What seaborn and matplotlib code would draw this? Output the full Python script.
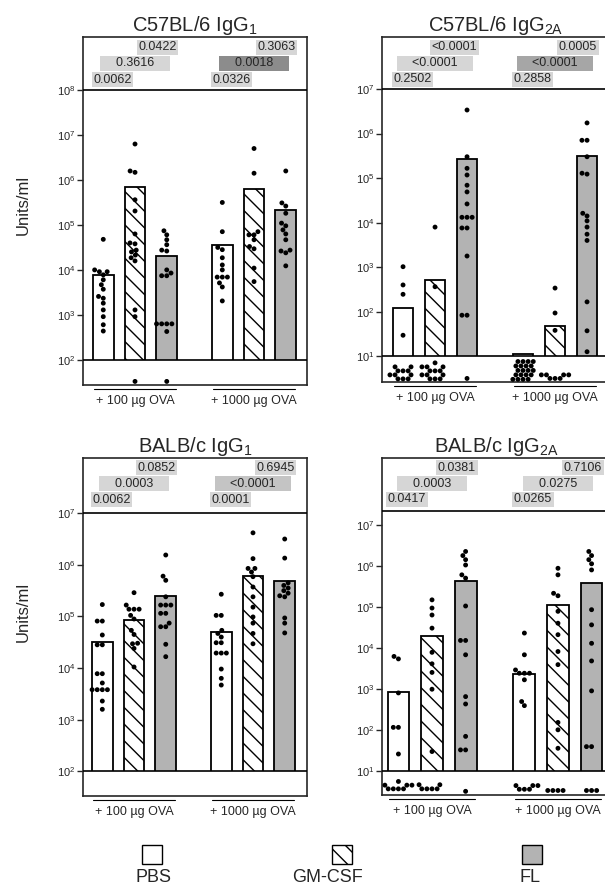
import numpy as np
import pandas as pd
import matplotlib
matplotlib.use('Agg')
import matplotlib.pyplot as plt
from matplotlib.patches import Rectangle
from matplotlib.lines import Line2D
from matplotlib.ticker import NullLocator
import seaborn as sns

# ---- DATOS (valores en log10 Units/ml) ----
doses = ['+ 100 µg OVA', '+ 1000 µg OVA']
treatments = ['PBS', 'GM-CSF', 'FL']
titles = ['C57BL/6 IgG$_1$', 'C57BL/6 IgG$_{2A}$', 'BALB/c IgG$_1$', 'BALB/c IgG$_{2A}$']

# barras: 100 (PBS, GM-CSF, FL), 1000 (PBS, GM-CSF, FL)
c57_g1_bars = [3.88, 5.84, 4.30, 4.56, 5.80, 5.34]
c57_g2a_bars = [2.09, 2.72, 5.43, 1.04, 1.68, 5.49]
balb_g1_bars = [4.50, 4.93, 5.39, 4.70, 5.78, 5.68]
balb_g2a_bars = [2.93, 4.28, 5.63, 3.36, 5.05, 5.58]

# ratones individuales (los valores < limite van en la banda inferior)
c57_g1_pts = [
    [4.68, 4.0, 3.96, 3.96, 3.89, 3.78, 3.67, 3.57, 3.41, 3.37, 3.26, 3.11, 2.96, 2.78, 2.64],
    [6.8, 6.2, 6.17, 5.56, 5.31, 4.8, 4.6, 4.58, 4.44, 4.4, 4.33, 4.27, 4.2, 3.11, 2.96, 1.52],
    [4.87, 4.78, 4.67, 4.56, 4.44, 4.42, 4.0, 3.93, 3.87, 3.87, 2.8, 2.8, 2.8, 2.8, 2.63, 1.52],
    [5.5, 4.85, 4.5, 4.45, 4.27, 4.11, 4.0, 3.84, 3.84, 3.84, 3.71, 3.62, 3.31],
    [6.7, 6.15, 4.85, 4.78, 4.78, 4.67, 4.52, 4.47, 4.04, 3.74],
    [6.2, 5.49, 5.42, 5.26, 5.04, 4.98, 4.89, 4.8, 4.67, 4.44, 4.42, 4.38, 4.09],
]
c57_g2a_pts = [
    [3.01, 2.6, 2.39, 1.47, 0.76, 0.76, 0.67, 0.67, 0.67, 0.58, 0.58, 0.58, 0.49, 0.49, 0.49],
    [3.9, 2.56, 0.85, 0.76, 0.76, 0.76, 0.67, 0.67, 0.67, 0.58, 0.58, 0.58, 0.49, 0.49, 0.49],
    [6.53, 5.48, 5.22, 5.07, 4.84, 4.69, 4.42, 4.12, 4.12, 4.12, 3.88, 3.88, 3.25, 1.92, 1.92, 0.5],
    [0.88, 0.88, 0.88, 0.88, 0.78, 0.78, 0.78, 0.78, 0.68, 0.68, 0.68, 0.68,
     0.58, 0.58, 0.58, 0.58, 0.48, 0.48, 0.48, 0.48],
    [2.53, 1.97, 1.58, 0.58, 0.58, 0.58, 0.58, 0.5, 0.5, 0.5],
    [6.24, 5.85, 5.85, 5.48, 5.11, 5.09, 4.21, 4.15, 4.04, 3.9, 3.74, 3.6, 2.22, 1.57, 1.1],
]
balb_g1_pts = [
    [5.23, 4.91, 4.91, 4.64, 4.45, 4.45, 3.89, 3.89, 3.71, 3.58, 3.58, 3.58, 3.58, 3.36, 3.2],
    [5.46, 5.22, 5.14, 5.14, 5.14, 5.02, 4.95, 4.73, 4.65, 4.48, 4.47, 4.38, 4.02],
    [6.19, 5.78, 5.7, 5.38, 5.22, 5.22, 5.22, 5.06, 5.06, 4.87, 4.8, 4.8, 4.46, 4.22],
    [5.43, 5.02, 5.02, 4.73, 4.67, 4.6, 4.49, 4.49, 4.29, 4.29, 4.29, 3.98, 3.8, 3.67],
    [6.62, 6.12, 5.93, 5.93, 5.86, 5.77, 5.57, 5.38, 5.18, 4.99, 4.87, 4.67, 4.47],
    [6.5, 6.13, 5.65, 5.6, 5.55, 5.5, 5.45, 5.4, 5.38, 4.97, 4.87, 4.68],
]
balb_g2a_pts = [
    [3.79, 3.73, 2.9, 2.06, 2.06, 1.41, 0.74, 0.65, 0.65, 0.65, 0.56, 0.56, 0.56, 0.56],
    [5.17, 4.97, 4.8, 4.48, 3.89, 3.61, 3.4, 2.99, 1.47, 0.66, 0.66, 0.56, 0.56, 0.56, 0.56],
    [6.35, 6.25, 6.15, 6.02, 5.78, 5.7, 5.02, 4.18, 4.18, 3.83, 2.81, 2.63, 1.84, 1.51, 1.51, 0.5],
    [4.36, 3.83, 3.46, 3.38, 3.38, 3.38, 3.22, 2.69, 2.59, 0.64, 0.64, 0.64, 0.55, 0.55, 0.55],
    [5.94, 5.78, 5.33, 5.27, 4.89, 4.6, 4.32, 3.91, 3.59, 2.18, 2.0, 1.55, 0.52, 0.52, 0.52, 0.52],
    [6.35, 6.25, 6.15, 6.05, 5.9, 4.93, 4.56, 4.11, 3.68, 2.95, 1.59, 1.59, 0.52, 0.52, 0.52],
]

# valores p: por dosis (GM-CSF vs FL, PBS vs FL, PBS vs GM-CSF)
c57_g1_p = [['0.0422', '0.3616', '0.0062'], ['0.3063', '0.0018', '0.0326']]
c57_g2a_p = [['<0.0001', '<0.0001', '0.2502'], ['0.0005', '<0.0001', '0.2858']]
balb_g1_p = [['0.0852', '0.0003', '0.0062'], ['0.6945', '<0.0001', '0.0001']]
balb_g2a_p = [['0.0381', '0.0003', '0.0417'], ['0.7106', '0.0275', '0.0265']]

bar_colors = ['white', 'white', '#b3b3b3']
hatches = ['', '\\\\', '']

# ---- ESTILO ----
sns.set_style('ticks')
plt.rcParams['font.family'] = ['Liberation Sans', 'DejaVu Sans']
plt.rcParams['mathtext.default'] = 'regular'
plt.rcParams['hatch.linewidth'] = 1.0

W, H = 605, 886
fig = plt.figure(figsize=(W / 100, H / 100), dpi=100)


def add_ax(left, top, right, bottom):
    return fig.add_axes([left / W, 1 - bottom / H, (right - left) / W, (bottom - top) / H])


def points_frame(groups):
    rows = []
    for i, vals in enumerate(groups):
        for v in vals:
            rows.append((doses[i // 3], treatments[i % 3], 10 ** v))
    return pd.DataFrame(rows, columns=['dose', 'treatment', 'units'])


panels = [
    dict(box=(83, 37, 307, 385), xlim=(-0.437, 1.445), ylim=(1.44, 9.18), floor=2, ceil=8,
         ticks=range(2, 9), ylab=0.517, dark=[None, '#8c8c8c']),
    dict(box=(382, 37, 610, 382), xlim=(-0.442, 1.458), ylim=(0.42, 8.17), floor=1, ceil=7,
         ticks=range(1, 8), ylab=None, dark=[None, '#a6a6a6']),
    dict(box=(83, 458, 307, 796), xlim=(-0.429, 1.454), ylim=(1.52, 8.07), floor=2, ceil=7,
         ticks=range(2, 8), ylab=0.544, dark=[None, '#c4c4c4']),
    dict(box=(382, 458, 610, 795), xlim=(-0.397, 1.413), ylim=(0.41, 8.63), floor=1, ceil=7.34,
         ticks=range(1, 8), ylab=None, dark=[None, None]),
]
all_bars = [c57_g1_bars, c57_g2a_bars, balb_g1_bars, balb_g2a_bars]
all_pts = [c57_g1_pts, c57_g2a_pts, balb_g1_pts, balb_g2a_pts]
all_p = [c57_g1_p, c57_g2a_p, balb_g1_p, balb_g2a_p]

light = '#d6d6d6'

for spec, title, bars, pts, pv in zip(panels, titles, all_bars, all_pts, all_p):
    ax = add_ax(*spec['box'])
    bar_df = pd.DataFrame({'dose': np.repeat(doses, 3), 'treatment': treatments * 2,
                           'units': 10 ** np.array(bars)})
    sns.barplot(data=bar_df, x='dose', y='units', hue='treatment', order=doses,
                hue_order=treatments, palette=bar_colors, edgecolor='black', linewidth=1.3,
                gap=0.35, errorbar=None, legend=False, log_scale=True, ax=ax)
    for patch in ax.containers[1]:
        patch.set_hatch(hatches[1])
    sns.swarmplot(data=points_frame(pts), x='dose', y='units', hue='treatment', order=doses,
                  hue_order=treatments, dodge=True, palette=['black'] * 3, size=3.5,
                  legend=False, log_scale=True, ax=ax, zorder=4)
    # barras desde el fondo del eje (no enmascarar el 0 en escala log)
    ax.set_yscale('log', nonpositive='clip')

    lo, hi = spec['ylim']
    ax.set_yticks([10.0 ** k for k in spec['ticks']])
    ax.yaxis.set_minor_locator(NullLocator())
    ax.set_ylim(10 ** lo, 10 ** hi)
    ax.set_xlim(*spec['xlim'])
    ax.axhspan(10 ** lo, 10 ** spec['floor'], facecolor='white', edgecolor='none', zorder=2)
    ax.axhline(10 ** spec['floor'], color='black', lw=1.2, zorder=3)
    ax.axhline(10 ** spec['ceil'], color='black', lw=1.2, zorder=3)

    ax.set_xlabel('')
    ax.set_ylabel('')
    ax.tick_params(axis='y', length=4, width=1, labelsize=8, pad=1.5)
    ax.tick_params(axis='x', length=0, labelsize=9, pad=7)
    for sp in ax.spines.values():
        sp.set_linewidth(1.2)
    ax.set_title(title, fontsize=14.5, pad=3.5)

    trans = ax.get_xaxis_transform()
    for g, (top, mid, bot) in enumerate(pv):
        mid_fc = spec['dark'][g] or light
        ax.text(g + 0.35, 0.971, top, transform=trans, ha='right', va='center', fontsize=9,
                bbox=dict(boxstyle='square,pad=0.12', fc=light, ec='none'))
        ax.text(g, 0.924, '    ' + mid + '    ', transform=trans, ha='center', va='center',
                fontsize=9, bbox=dict(boxstyle='square,pad=0.12', fc=mid_fc, ec='none'))
        ax.text(g - 0.35, 0.877, bot, transform=trans, ha='left', va='center', fontsize=9,
                bbox=dict(boxstyle='square,pad=0.12', fc=light, ec='none'))
        ax.add_artist(Line2D([g - 0.345, g + 0.345], [-0.012, -0.012], transform=trans,
                             color='black', lw=0.8, clip_on=False))

    if spec['ylab'] is not None:
        ax.set_ylabel('Units/ml', fontsize=12)
        ax.yaxis.set_label_coords(-0.232, spec['ylab'])

# leyenda inferior
square_x = [142, 332, 522]
label_x = [153, 328, 530]
for t, color, hatch, sx, lx in zip(treatments, bar_colors, hatches, square_x, label_x):
    fig.add_artist(Rectangle((sx / W, 1 - 864 / H), 20 / W, 19 / H, transform=fig.transFigure,
                             fc=color, ec='black', lw=1, hatch=hatch))
    fig.text(lx / W, 0.0, t, ha='center', va='bottom', fontsize=13)

fig.savefig('out.png', dpi=100)
